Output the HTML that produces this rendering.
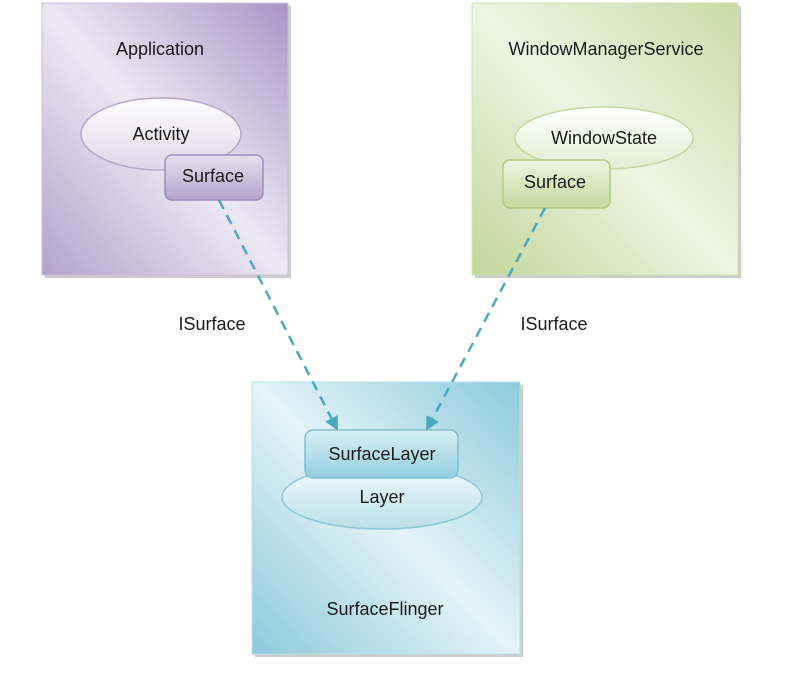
<!DOCTYPE html>
<html><head><meta charset="utf-8"><style>
body{margin:0;background:#fff;}
svg text{font-family:"Liberation Sans",sans-serif;font-size:18px;fill:#1a1a1a;text-anchor:middle;}
</style></head><body>
<svg width="791" height="672" viewBox="0 0 791 672">
<defs>
<linearGradient id="gp" x1="0" y1="1" x2="1" y2="0">
<stop offset="0" stop-color="#b3a3cc"/><stop offset="0.5" stop-color="#ece8f3"/><stop offset="1" stop-color="#a995c6"/></linearGradient>
<linearGradient id="gg" x1="0" y1="1" x2="1" y2="0">
<stop offset="0" stop-color="#c2d69a"/><stop offset="0.5" stop-color="#eef4e2"/><stop offset="1" stop-color="#c9dba6"/></linearGradient>
<linearGradient id="gb" x1="0" y1="1" x2="1" y2="0">
<stop offset="0" stop-color="#8ccadb"/><stop offset="0.5" stop-color="#e4f3f7"/><stop offset="1" stop-color="#8ccbdc"/></linearGradient>
<linearGradient id="ep" x1="0" y1="0" x2="0" y2="1"><stop offset="0" stop-color="#fff"/><stop offset="1" stop-color="#ddd6e8"/></linearGradient>
<linearGradient id="eg" x1="0" y1="0" x2="0" y2="1"><stop offset="0" stop-color="#fff"/><stop offset="1" stop-color="#e3edd0"/></linearGradient>
<linearGradient id="eb" x1="0" y1="0" x2="0" y2="1"><stop offset="0" stop-color="#f4fbfd"/><stop offset="1" stop-color="#b9dfea"/></linearGradient>
<linearGradient id="rp" x1="0" y1="0" x2="0" y2="1"><stop offset="0" stop-color="#e6e0ef"/><stop offset="1" stop-color="#b4a4cc"/></linearGradient>
<linearGradient id="rg" x1="0" y1="0" x2="0" y2="1"><stop offset="0" stop-color="#eef4e0"/><stop offset="1" stop-color="#c6da9f"/></linearGradient>
<linearGradient id="rb" x1="0" y1="0" x2="0" y2="1"><stop offset="0" stop-color="#d9eff5"/><stop offset="1" stop-color="#93cfdf"/></linearGradient>
<marker id="ar" markerWidth="14" markerHeight="14" refX="12" refY="7" orient="auto" markerUnits="userSpaceOnUse"><path d="M0,0 L14,7 L0,14 z" fill="#4aa8c0"/></marker>
</defs>
<rect x="45" y="6" width="246" height="272" fill="#999" opacity="0.5"/>
<rect x="42" y="3" width="246" height="272" fill="url(#gp)" stroke="#c9bedc"/>
<rect x="475" y="6" width="266" height="272" fill="#999" opacity="0.5"/>
<rect x="472" y="3" width="266" height="272" fill="url(#gg)" stroke="#d2e2b6"/>
<rect x="255" y="385" width="268" height="272" fill="#999" opacity="0.5"/>
<rect x="252" y="382" width="268" height="272" fill="url(#gb)" stroke="#b8dfe9"/>
<text x="160" y="55">Application</text>
<text x="606" y="55">WindowManagerService</text>
<text x="385" y="615">SurfaceFlinger</text>
<ellipse cx="161" cy="134" rx="80" ry="36" fill="url(#ep)" stroke="#b5a8cb" stroke-width="1.5"/>
<text x="161" y="140">Activity</text>
<rect x="165" y="155" width="98" height="45" rx="7" fill="url(#rp)" stroke="#a08dbd" stroke-width="1.5"/>
<text x="213" y="182">Surface</text>
<ellipse cx="604" cy="138" rx="89" ry="31" fill="url(#eg)" stroke="#c5d8a4" stroke-width="1.5"/>
<text x="604" y="144">WindowState</text>
<rect x="503" y="160" width="107" height="48" rx="7" fill="url(#rg)" stroke="#b1cb83" stroke-width="1.5"/>
<text x="555" y="188">Surface</text>
<ellipse cx="382" cy="497" rx="100" ry="32" fill="url(#eb)" stroke="#8fc8d8" stroke-width="1.5"/>
<rect x="305" y="430" width="153" height="48" rx="8" fill="url(#rb)" stroke="#7fc0d2" stroke-width="1.5"/>
<text x="382" y="460">SurfaceLayer</text>
<text x="382" y="503">Layer</text>
<line x1="219" y1="200" x2="337" y2="429" stroke="#4aa8c0" stroke-width="2.5" stroke-dasharray="10,7" marker-end="url(#ar)"/>
<line x1="545" y1="208" x2="427" y2="429" stroke="#4aa8c0" stroke-width="2.5" stroke-dasharray="10,7" marker-end="url(#ar)"/>
<text x="212" y="330">ISurface</text>
<text x="554" y="330">ISurface</text>
</svg>
</body></html>
